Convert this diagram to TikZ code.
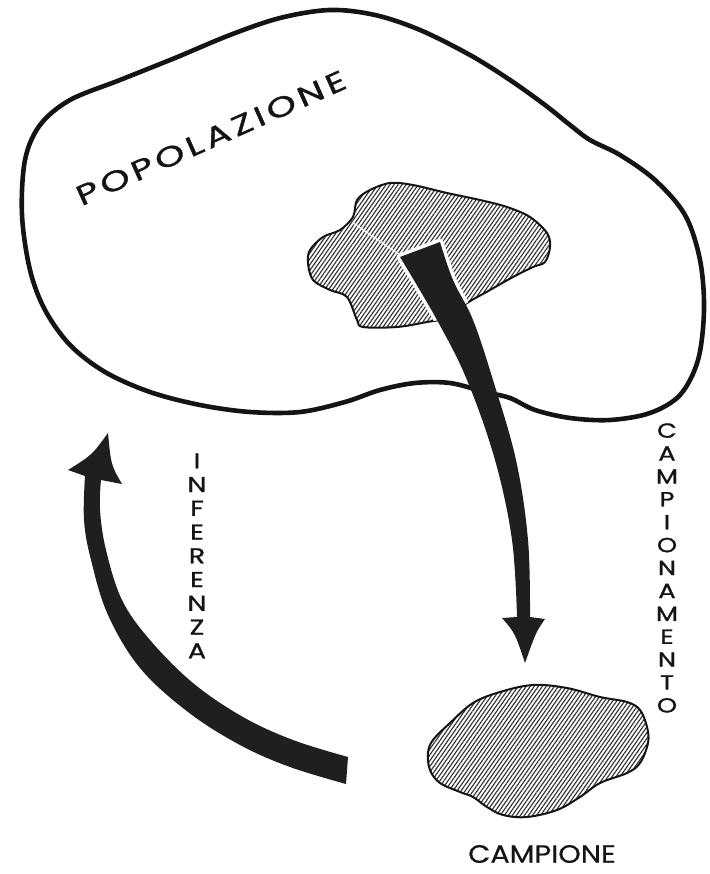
\documentclass[tikz,border=0pt]{standalone}
\usepackage{fontspec}
\usepackage{graphicx}
\setmainfont{Poppins}
\usetikzlibrary{patterns.meta}
\begin{document}
\begin{tikzpicture}[x=1pt,y=-1pt,
  outline/.style={draw=black!92, line width=4.6pt, line join=round},
  blob/.style={draw=black!92, line width=2pt, pattern={Lines[angle=55,distance=3.3pt,line width=1.15pt]}, pattern color=black!80},
  dark/.style={fill=black!88, draw=none},
  lettering/.style={inner sep=0pt, text=black!92}]
\useasboundingbox (0,0) rectangle (709,874);
\fill[white] (0,0) rectangle (709,874);

% population outline
\draw[outline] plot[smooth cycle, tension=0.55] coordinates {
  (22,215) (25,160) (40,125) (70,100) (120,80) (175,58) (230,35) (280,18) (330,10)
  (375,15) (420,30) (470,55) (510,80) (545,105) (570,125) (590,140) (620,155)
  (655,180) (685,215) (700,260) (704,310) (698,360) (680,395) (650,413) (610,420)
  (570,418) (535,410) (510,398) (485,392) (450,383) (415,383) (380,390) (345,402)
  (300,412) (250,412) (200,405) (150,392) (105,372) (70,345) (45,310) (30,270)};

% hatched part of the population
\def\popblobpath{plot[smooth cycle, tension=0.55] coordinates {
  (308,263) (310,250) (323,237) (340,230) (353,217) (357,200) (370,190) (390,183)
  (413,185) (447,193) (480,200) (507,207) (530,217) (547,233) (550,247) (545,262)
  (533,267) (513,277) (490,290) (467,303) (445,318) (427,322) (397,327) (363,327)
  (357,320) (347,297) (330,290) (313,280)}}
\path[blob] \popblobpath;
\draw[white, line width=1.2pt] (353,223) -- (400,255);

% sampling arrow
\def\samparrowpath{(400,257) -- (440,242)
  -- plot[smooth, tension=0.6] coordinates {(440,242) (453,280) (473,320) (493,380) (516,460) (528,540) (530,617)}
  -- (545,619) .. controls (536,632) .. (525,663) .. controls (515,633) .. (502,618) -- (517,617)
  -- plot[smooth, tension=0.6] coordinates {(517,617) (512,540) (495,460) (467,380) (437,320) (400,257)} -- cycle}
\begin{scope}
  \clip \popblobpath;
  \draw[white, line width=7pt, line join=round] \samparrowpath;
\end{scope}
\fill[dark] \samparrowpath;
\coordinate (sampstart) at (420,250);
\coordinate (sampend) at (525,663);

% sample blob
\path[blob] plot[smooth cycle, tension=0.6] coordinates {
  (428,753) (433,740) (450,723) (473,703) (500,692) (533,685) (567,688) (600,697)
  (627,702) (640,710) (647,727) (648,743) (640,763) (627,773) (600,783) (580,797)
  (557,810) (527,817) (503,815) (487,807) (473,797) (460,792) (440,783) (430,770)};

% inference arrow
\fill[dark] (348,757)
  -- plot[smooth, tension=0.6] coordinates {(348,757) (293,740) (243,717) (193,683) (150,640) (122,600) (106,550) (100,510) (101,480)}
  -- (122,484) .. controls (111,465) .. (108,433) .. controls (92,455) .. (68,470) -- (85,476)
  -- plot[smooth, tension=0.6] coordinates {(85,476) (84,520) (91,560) (108,615) (140,668) (188,712) (240,745) (290,767) (346,784)}
  -- cycle;
\coordinate (infstart) at (347,770);
\coordinate (infend) at (108,433);

% labels
\node[lettering, font=\fontsize{28}{28}\selectfont\addfontfeature{LetterSpace=11,FakeBold=1}, rotate=24] (poptext) at (211,138) {\scalebox{1.35}[1]{POPOLAZIONE}};
\node[lettering, font=\fontsize{25}{25}\selectfont\addfontfeature{FakeBold=0.4}] (camptext) at (542,854) {\scalebox{1.15}[1]{CAMPIONE}};
\node[lettering, font=\fontsize{21.5}{23.75}\selectfont\addfontfeature{FakeBold=1}, anchor=north] (inftext) at (197,451.5) {\scalebox{1.25}[1]{\begin{tabular}{@{}c@{}}I\\N\\F\\E\\R\\E\\N\\Z\\A\end{tabular}}};
\node[lettering, font=\fontsize{20.5}{22.9}\selectfont\addfontfeature{FakeBold=1}, anchor=north] (samptext) at (667,421.5) {\scalebox{1.25}[1]{\begin{tabular}{@{}c@{}}C\\A\\M\\P\\I\\O\\N\\A\\M\\E\\N\\T\\O\end{tabular}}};
\end{tikzpicture}
\end{document}
